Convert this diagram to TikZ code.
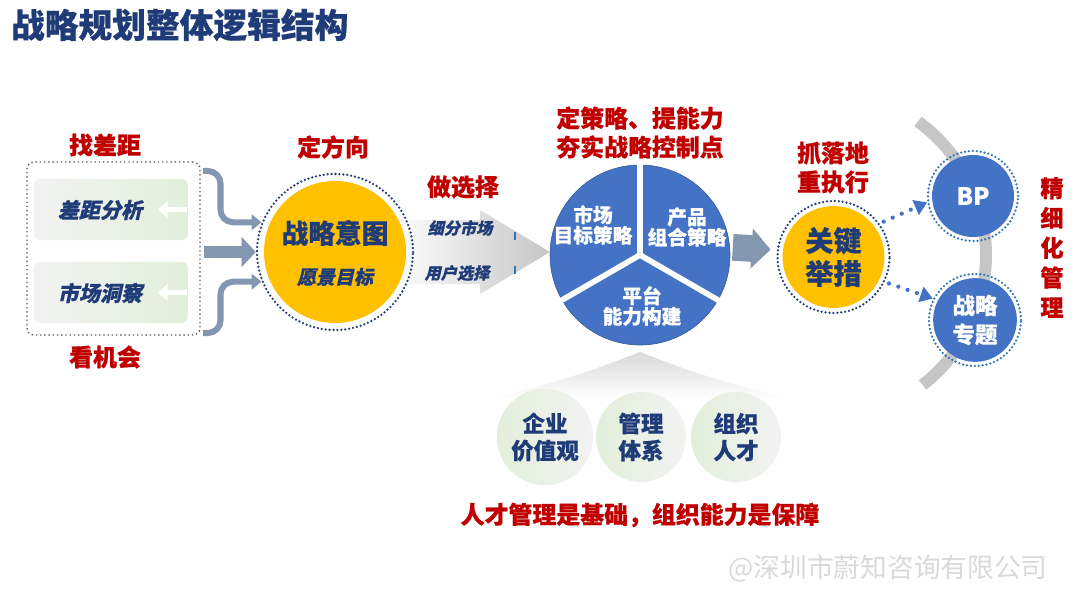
\documentclass[tikz,border=0pt]{standalone}
\usepackage{fontspec}
\newfontfamily\cjk{Noto Sans CJK SC}[BoldFeatures={FakeBold=0.6}]
\newfontfamily\cjkit{Noto Sans CJK SC}[FakeSlant=0.22, BoldFeatures={FakeBold=0.6}]
\usetikzlibrary{arrows.meta,calc}

\definecolor{navy}{HTML}{1F3C78}
\definecolor{darkred}{HTML}{C00000}
\definecolor{gold}{HTML}{FFC000}
\definecolor{pieblue}{HTML}{4472C4}
\definecolor{steel}{HTML}{8497B0}
\definecolor{ringblue}{HTML}{2E75B6}
\definecolor{palegreen}{HTML}{E2EFDA}
\definecolor{palegray}{HTML}{F2F2F2}

\tikzset{
  redlbl/.style={text=darkred, font=\cjk\bfseries\fontsize{17}{20.6}\selectfont, align=center},
  slanted/.style={text=navy, font=\cjkit\bfseries\fontsize{15}{18}\selectfont},
  smallslant/.style={text=navy, font=\cjkit\bfseries\fontsize{11.5}{14}\selectfont},
  pietext/.style={text=white, font=\cjk\bfseries\fontsize{14}{14.5}\selectfont, align=center},
  dotring/.style={circle, line width=1.8pt, dash pattern=on 0pt off 2.8pt, line cap=round},
  yellowball/.style={dotring, draw=navy, minimum size=#1,
    path picture={\fill[gold] (path picture bounding box.center) circle[radius=0.455*#1];}},
  blueball/.style={dotring, draw=ringblue, minimum size=#1, text=white,
    path picture={\fill[pieblue] (path picture bounding box.center) circle[radius=0.455*#1];}},
  paleball/.style={circle, minimum size=2.25cm, left color=palegreen, right color=palegray,
    text=navy, font=\cjk\bfseries\fontsize{16}{19.2}\selectfont, align=center},
  scanbox/.style={draw=gray!70!black, dotted, line width=1pt, rounded corners=5pt,
    minimum width=4.325cm, minimum height=4.325cm},
  softbox/.style={rounded corners=4pt, left color=palegray, right color=palegreen,
    minimum width=3.85cm, minimum height=1.525cm},
  backarrow/.style={white, line width=3.5pt, -{Triangle[length=7pt,width=12pt]}},
  fatarrow/.style={steel, line width=9pt, shorten <=2pt, -{Triangle[length=10pt,width=21pt]}},
  pipe/.style={steel, line width=4.3pt, rounded corners=9pt, -{Triangle[length=7pt,width=11pt]}},
  blockarrow/.style={steel, line width=19pt, shorten <=2pt, shorten >=4.3pt,
    -{Triangle[length=13.5pt,width=27.7pt]}},
  dotlink/.style={pieblue, line width=3pt, dash pattern=on 0pt off 7pt, line cap=round,
    shorten <=3pt, -{Triangle[length=9pt,width=11pt]}},
}

\begin{document}
\begin{tikzpicture}[x=0.025cm, y=0.025cm]
\useasboundingbox (0,0) rectangle (1080,608);

\node[anchor=west, text=navy, font=\cjk\bfseries\fontsize{24}{28}\selectfont] (title) at (6,583) {战略规划整体逻辑结构};

% shaded shapes behind
\shade[left color=white, right color=gray!45] (390,388) -- (480,388) -- (480,398) -- (550,356) -- (480,314) -- (480,324) -- (390,324) -- cycle;
\draw[ringblue, line width=1.5pt] (515,368) -- (515,376) (515,334) -- (515,342);
\shade[top color=gray!30, bottom color=white] (640,256) .. controls (590,236) and (540,220) .. (487,210) -- (793,210) .. controls (740,220) and (690,236) .. (640,256) -- cycle;
\coordinate (hub) at (821,353);
\draw[gray!45, line width=8.5pt] ($(hub)+(54:165)$) arc[start angle=54, end angle=-52, radius=165];

% left block
\node[redlbl] (gaplbl) at (105,463) {找差距};
\node[redlbl] (chancelbl) at (105,251) {看机会};
\node[scanbox] (scan) at (113.5,359.5) {};
\node[softbox] (gapbox) at (111,398.5) {};
\node[softbox] (insightbox) at (111,315.5) {};
\draw[backarrow] ([xshift=-1pt]gapbox.east) -- ++(-29,0);
\draw[backarrow] ([xshift=-1pt]insightbox.east) -- ++(-29,0);
\node[slanted] (gaptext) at (100,398) {差距分析};
\node[slanted] (insighttext) at (100,315) {市场洞察};

% intent
\node[yellowball=3.9cm] (intent) at (335,356) {};
\node[text=navy, font=\cjk\bfseries\fontsize{19}{22}\selectfont] (intentname) at (335,375) {战略意图};
\node[slanted, font=\cjkit\bfseries\fontsize{13.5}{16}\selectfont] (intentgoal) at (335,331) {愿景目标};
\node[redlbl] (dirlbl) at (333,461) {定方向};

\coordinate (upin) at (203,437);
\coordinate (lowin) at (203,275);
\draw[fatarrow] (scan.east |- intent.west) -- (intent.west);
\draw[pipe] (upin) -| ($(intent.158)+(-41,0)$) -- (intent.158);
\draw[pipe] (lowin) -| ($(intent.202)+(-41,0)$) -- (intent.202);

% choice
\node[redlbl] (chooselbl) at (463,421) {做选择};
\node[smallslant] (segtext) at (460,380) {细分市场};
\node[smallslant] (usertext) at (457,335) {用户选择};

% pie
\node[circle, minimum size=4.5cm] (pie) at (640,353) {};
\foreach \a/\b in {90/210, 210/330, -30/90}
  \fill[pieblue, draw=pieblue!75!black, thin] (pie.center) -- ++(\a:90) arc[start angle=\a, end angle=\b, radius=90] -- cycle;
\foreach \a in {90,210,330}
  \draw[white, line width=4pt] (pie.center) -- ++(\a:93);
\node[pietext] (marketseg) at (593,383) {市场\\目标策略};
\node[pietext] (productseg) at (687,381) {产品\\组合策略};
\node[pietext] (platformseg) at (642,302) {平台\\能力构建};
\node[redlbl] (strategylbl) at (640,475.5) {定策略、提能力\\夯实战略控制点};

% execution
\node[yellowball=2.8cm, text=navy, font=\cjk\bfseries\fontsize{20}{23.5}\selectfont, align=center] (key) at (833.5,351) {关键\\举措};
\draw[blockarrow] (pie.5) -- (key.173);
\node[redlbl] (executelbl) at (833,440.5) {抓落地\\重执行};

\node[blueball=2.25cm, font=\cjk\bfseries\fontsize{17}{20}\selectfont] (bp) at (973,412) {BP};
\node[blueball=2.3cm, font=\cjk\bfseries\fontsize{16}{20.6}\selectfont, align=center] (topic) at (975,288) {战略\\专题};
\draw[dotlink] (key.36) -- (bp.188);
\draw[dotlink] (key.-26) -- (topic.153);
\node[redlbl, font=\cjk\bfseries\fontsize{16.5}{21.2}\selectfont] (finelbl) at (1052,360.5) {精\\细\\化\\管\\理};

% base
\node[paleball] (culture) at (545,171) {企业\\价值观};
\node[paleball] (system) at (641,171) {管理\\体系};
\node[paleball] (talent) at (736,171) {组织\\人才};
\node[redlbl] (baselbl) at (640,93) {人才管理是基础，组织能力是保障};

\node[text=gray!30, font=\cjk\fontsize{19}{22}\selectfont] (mark) at (888,40) {@深圳市蔚知咨询有限公司};
\end{tikzpicture}
\end{document}
